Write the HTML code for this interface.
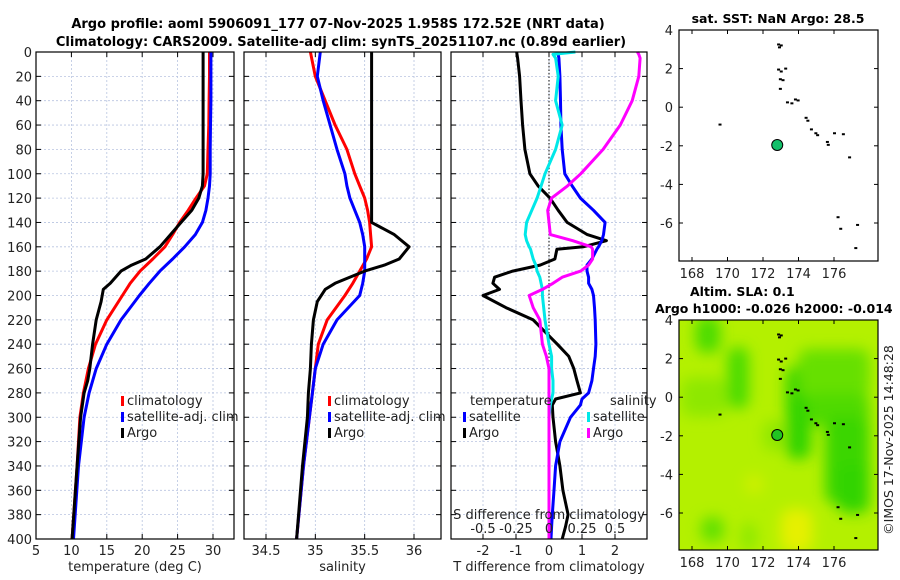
<!DOCTYPE html>
<html><head><meta charset="utf-8"><style>
html,body{margin:0;padding:0;background:#fff;}
svg{display:block;font-family:"DejaVu Sans","Liberation Sans",sans-serif;}
</style></head><body>
<svg id="c" width="900" height="580" viewBox="0 0 900 580" xmlns="http://www.w3.org/2000/svg">
<defs>
<filter id="blur" x="-20%" y="-20%" width="140%" height="140%"><feGaussianBlur stdDeviation="7"/></filter>
<clipPath id="mapclip"><rect x="679" y="320" width="199" height="230"/></clipPath>
</defs>
<text x="338" y="28" text-anchor="middle" font-size="13" font-weight="bold">Argo profile: aoml 5906091_177 07-Nov-2025 1.958S 172.52E (NRT data)</text>
<text x="341" y="46" text-anchor="middle" font-size="13" font-weight="bold">Climatology: CARS2009. Satellite-adj clim: synTS_20251107.nc (0.89d earlier)</text>
<g id="g"></g>
</svg>
<script>
// ---- data ----
const depths = [0,20,40,60,80,100,110,120,130,140,150,160,170,180,190,200,220,240,260,280,300,340,400];
const tempClim = [29.5,29.5,29.45,29.4,29.3,29.2,28.8,27.6,26.5,25.3,24.3,23.2,21.5,19.7,18.3,17.2,15.0,13.4,12.4,11.7,11.2,10.8,10.1];
const tempSat  = [29.7,29.7,29.7,29.65,29.6,29.6,29.5,29.3,29.0,28.5,27.5,26.0,24.3,22.5,21.0,19.6,17.0,15.0,13.5,12.5,11.8,11.0,10.3];
const argoDepths = [0,20,60,100,110,120,130,140,150,160,170,175,180,190,195,205,220,240,260,270,280,300,340,400];
const tempArgo = [28.6,28.6,28.6,28.6,28.5,28.0,27.0,25.5,24.0,22.5,20.5,18.5,17.0,15.5,14.5,14.2,13.5,13.0,12.6,12.3,11.8,11.3,10.8,10.1];
const salClim = [34.95,35.0,35.1,35.2,35.32,35.4,35.45,35.5,35.53,35.55,35.56,35.57,35.52,35.45,35.38,35.3,35.12,35.03,35.0,34.97,34.94,34.88,34.81];
const salSat  = [35.05,35.02,35.08,35.15,35.22,35.3,35.32,35.35,35.4,35.45,35.48,35.5,35.5,35.5,35.48,35.45,35.22,35.08,35.0,34.97,34.94,34.88,34.81];
const salArgo = [35.57,35.57,35.57,35.57,35.57,35.57,35.57,35.57,35.8,35.95,35.85,35.7,35.5,35.2,35.1,35.02,34.98,34.96,34.95,34.94,34.93,34.92,34.87,34.81];
const diffDepths = [0,2,5,20,40,60,80,100,110,120,130,140,150,155,160,162,170,175,180,185,190,195,200,210,220,240,250,260,270,280,285,290,300,320,340,360,380,390,400];
const tDiffArgo = [-0.98,-0.97,-0.95,-0.89,-0.85,-0.8,-0.73,-0.58,-0.33,0.03,0.28,0.55,1.16,1.74,1.04,0.24,0.18,-0.27,-1.1,-1.65,-1.7,-1.5,-2.0,-1.3,-0.48,0.25,0.6,0.75,0.85,0.95,0.2,0.1,0.12,0.2,0.33,0.42,0.58,0.5,0.4];
const tDiffSat  = [0.28,0.28,0.3,0.33,0.35,0.36,0.4,0.48,0.7,0.95,1.35,1.7,1.65,1.6,1.5,1.45,1.3,1.15,1.15,1.2,1.2,1.3,1.35,1.38,1.4,1.42,1.4,1.35,1.3,1.2,1.0,0.95,0.65,0.33,0.2,0.15,0.1,0.08,0.06];
const sDiffSat  = [0.2,0.03,0.05,0.07,0.05,0.1,0.05,-0.03,-0.06,-0.09,-0.13,-0.17,-0.18,-0.17,-0.15,-0.14,-0.12,-0.1,-0.09,-0.07,-0.06,-0.05,-0.05,-0.04,-0.03,0.0,0.02,0.02,0.03,0.03,0.02,0.01,0.0,0.0,0.0,0.0,0.0,0.0,0.0];
const sDiffArgo = [0.67,0.68,0.69,0.68,0.63,0.54,0.41,0.24,0.14,0.02,-0.01,0.0,0.01,0.18,0.32,0.33,0.33,0.3,0.24,0.1,0.03,-0.05,-0.15,-0.12,-0.07,-0.05,-0.02,0.0,0.0,0.0,0.0,0.0,0.0,0.0,0.0,0.0,0.0,0.0,0.0];
const depthTicks = [0,20,40,60,80,100,120,140,160,180,200,220,240,260,280,300,320,340,360,380,400];
const tempTicks = [5,10,15,20,25,30];
const salTicks = [34.5,35,35.5,36];
const tdTicks = [-2,-1,0,1,2];
const sdTicks = [-0.5,-0.25,0,0.25,0.5];
const lonTicks = [168,170,172,174,176];
const latTicks = [4,2,0,-2,-4,-6];
const floatLon = 172.52, floatLat = -1.958;

const NS = 'http://www.w3.org/2000/svg';
const G = document.getElementById('g');
function el(tag, attrs, parent){ const e=document.createElementNS(NS,tag); for(const k in attrs) e.setAttribute(k,attrs[k]); (parent||G).appendChild(e); return e; }
function txt(x,y,s,attrs,parent){ const e=el('text',Object.assign({x:x,y:y,'font-size':13,fill:'#222'},attrs||{}),parent); e.textContent=s; return e; }

const Y0=52, Y1=539;
const yD = d => Y0 + d*(Y1-Y0)/400;
function lin(d0,d1,p0,p1){ return v => p0 + (v-d0)*(p1-p0)/(d1-d0); }

const panels = [
  {x0:36,x1:234,xs:lin(5,30,36,213),ticks:tempTicks,label:'temperature (deg C)',name:'temperature-panel',ylab:true},
  {x0:244,x1:441,xs:lin(34.5,36,266,414),ticks:salTicks,label:'salinity',name:'salinity-panel'},
  {x0:451,x1:647,xs:lin(0,2,549,615),ticks:tdTicks,label:'T difference from climatology',name:'difference-panel'}
];
panels.forEach(p=>{
  const g=el('g',{});
  
  
  el('rect',{x:p.x0,y:Y0,width:p.x1-p.x0,height:Y1-Y0,fill:'#fff'},g);
  depthTicks.forEach(d=>{
    el('line',{x1:p.x0,x2:p.x1,y1:yD(d),y2:yD(d),stroke:'#b8c4e0','stroke-width':0.8,'stroke-dasharray':'2,2'},g);
    el('line',{x1:p.x0,x2:p.x0+5,y1:yD(d),y2:yD(d),stroke:'#000'},g);
    el('line',{x1:p.x1,x2:p.x1-5,y1:yD(d),y2:yD(d),stroke:'#000'},g);
    if(p.ylab) txt(p.x0-4,yD(d)+5,String(d),{'text-anchor':'end'},g);
  });
  p.ticks.forEach(t=>{
    const x=p.xs(t);
    el('line',{x1:x,x2:x,y1:Y0,y2:Y1,stroke:'#b8c4e0','stroke-width':0.8,'stroke-dasharray':'2,2'},g);
    el('line',{x1:x,x2:x,y1:Y1,y2:Y1-5,stroke:'#000'},g);
    el('line',{x1:x,x2:x,y1:Y0,y2:Y0+5,stroke:'#000'},g);
    txt(x,Y1+16,String(t),{'text-anchor':'middle'},g);
  });
  txt((p.x0+p.x1)/2,571,p.label,{'text-anchor':'middle'},g);
});
function poly(ds,vals,xf,color,name,w){
  const pts=vals.map((v,i)=>xf(v).toFixed(1)+','+yD(ds[i]).toFixed(1)).join(' ');
  const e=el('polyline',{points:pts,fill:'none',stroke:color,'stroke-width':w||3,'stroke-linejoin':'round'});
  
  
  return e;
}
const P1=panels[0].xs, P2=panels[1].xs, P3=panels[2].xs;
const Ps = v => P3(v*4);
el('line',{x1:P3(0),x2:P3(0),y1:Y0,y2:Y1,stroke:'#333','stroke-width':1.2,'stroke-dasharray':'1.5,2'});
poly(depths,tempClim,P1,'#f00','temp-climatology-line');
poly(depths,tempSat,P1,'#00f','temp-satellite-line');
poly(argoDepths,tempArgo,P1,'#000','temp-argo-line');
poly(depths,salClim,P2,'#f00','sal-climatology-line');
poly(depths,salSat,P2,'#00f','sal-satellite-line');
poly(argoDepths,salArgo,P2,'#000','sal-argo-line');
poly(diffDepths,tDiffArgo,P3,'#000','tdiff-argo-line');
poly(diffDepths,tDiffSat,P3,'#00f','tdiff-satellite-line');
poly(diffDepths,sDiffSat,Ps,'#00e8e8','sdiff-satellite-line');
poly(diffDepths,sDiffArgo,Ps,'#f0f','sdiff-argo-line');
panels.forEach(p=>{ el('rect',{x:p.x0,y:Y0,width:p.x1-p.x0,height:Y1-Y0,fill:'none',stroke:'#000','stroke-width':1.2}); });
const sl=txt(549,519,'S difference from climatology',{'text-anchor':'middle'});


sdTicks.forEach(t=>{ txt(Ps(t),533,String(t),{'text-anchor':'middle'}); });

function leg(x,y,color,label,name){
  const g=el('g',{});
  
  
  el('rect',{x:x,y:y-9,width:3,height:10,fill:color},g);
  txt(x+6,y,label,{},g);
}
leg(121,405,'#f00','climatology','legend-climatology');
leg(121,421,'#00f','satellite-adj. clim','legend-satellite');
leg(121,437,'#000','Argo','legend-argo');
leg(328,405,'#f00','climatology','legend-sal-climatology');
leg(328,421,'#00f','satellite-adj. clim','legend-sal-satellite');
leg(328,437,'#000','Argo','legend-sal-argo');
txt(470,405,'temperature',{});
txt(610,405,'salinity',{});
leg(463,421,'#00f','satellite','legend-tdiff-satellite');
leg(463,437,'#000','Argo','legend-tdiff-argo');
leg(587,421,'#00e8e8','satellite','legend-sdiff-satellite');
leg(587,437,'#f0f','Argo','legend-sdiff-argo');

// ---- maps ----
const MX0=679, MX1=878;
const lonX = lin(168,176,692,834);
const coast = [[172.85,3.25],[172.9,3.1],[173.0,3.2],[172.85,1.95],[173.0,1.85],[173.25,2.0],[172.95,1.45],[173.1,1.4],[172.95,0.95],[173.35,0.25],[173.6,0.2],[173.8,0.4],[173.95,0.35],[174.4,-0.55],[174.5,-0.7],[174.7,-1.15],[174.95,-1.35],[175.05,-1.45],[175.6,-1.8],[175.65,-1.95],[176.0,-1.35],[176.5,-1.4],[176.85,-2.6],[169.55,-0.9],[176.2,-5.7],[176.35,-6.3],[177.3,-6.1],[177.2,-7.3]];
function drawMap(top,bottom,name,field){
  const latY = lin(4,-6,top,top+193);
  const g=el('g',{});
  
  
  if(field){
    const fg=el('g',{'clip-path':'url(#mapclip)'},g);
    el('rect',{x:MX0,y:top,width:MX1-MX0,height:bottom-top,fill:'#b4f000'},fg);
    const bl=el('g',{filter:'url(#blur)'},fg);
    const blobs=[
      [168.2,169.6,2.3,4.2,'#4cdc00'],[170.0,171.2,-0.6,2.6,'#4cdc00'],[167.4,170,-1,1,'#8ee800'],
      [173.3,174.7,-3.2,1.6,'#30d400'],[174,178,0,2.5,'#66e000'],[174.5,178,-1.5,0.2,'#50da00'],
      [175.5,178,-5.5,-1],[176.2,178,-6,-3.5,'#30d400'],[168.5,169.8,-7.5,-6.2,'#60e000'],
      [173,174.8,-8,-5.8,'#e6f000'],[171,172,-5,-4,'#d0f000'],[170.8,171.6,-8,-6.5,'#8ae800'],[172,173.2,-2.8,-1.2,'#90e800']
    ];
    blobs.forEach(b=>{ el('rect',{x:lonX(b[0]),y:latY(b[3]),width:lonX(b[1])-lonX(b[0]),height:latY(b[2])-latY(b[3]),fill:b[4]||'#3ad600',rx:10},bl); });
  }
  coast.forEach(c=>{ el('rect',{x:lonX(c[0])-1,y:latY(c[1])-1,width:3,height:2,fill:'#000'},g); });
  const fl=el('circle',{cx:lonX(floatLon)+5,cy:latY(floatLat),r:5.5,fill:field?'#22c422':'#12c06a',stroke:'#000','stroke-width':1},g);
  
  
  el('rect',{x:MX0,y:top,width:MX1-MX0,height:bottom-top,fill:'none',stroke:'#000','stroke-width':1.2},g);
  latTicks.forEach(t=>{ const y=latY(t);
    el('line',{x1:MX0,x2:MX0+4,y1:y,y2:y,stroke:'#000'},g); el('line',{x1:MX1,x2:MX1-4,y1:y,y2:y,stroke:'#000'},g);
    txt(MX0-6,y+5,String(t),{'text-anchor':'end'},g); });
  lonTicks.forEach(t=>{ const x=lonX(t);
    el('line',{x1:x,x2:x,y1:bottom,y2:bottom-4,stroke:'#000'},g); el('line',{x1:x,x2:x,y1:top,y2:top+4,stroke:'#000'},g);
    txt(x,bottom+17,String(t),{'text-anchor':'middle'},g); });
}
drawMap(30,261,'sst-map',false);
drawMap(320,550,'sla-map',true);
txt(778,23,'sat. SST: NaN Argo: 28.5',{'text-anchor':'middle','font-size':12.5,'font-weight':'bold',fill:'#000'});
txt(690,296,'Altim. SLA: 0.1',{'font-size':12.5,'font-weight':'bold',fill:'#000'});
txt(655,313,'Argo h1000: -0.026 h2000: -0.014',{'font-size':12.5,'font-weight':'bold',fill:'#000'});
txt(893,440,'©IMOS 17-Nov-2025 14:48:28',{'text-anchor':'middle','font-size':12.5,transform:'rotate(-90 893 440)'});
</script>
</body></html>
